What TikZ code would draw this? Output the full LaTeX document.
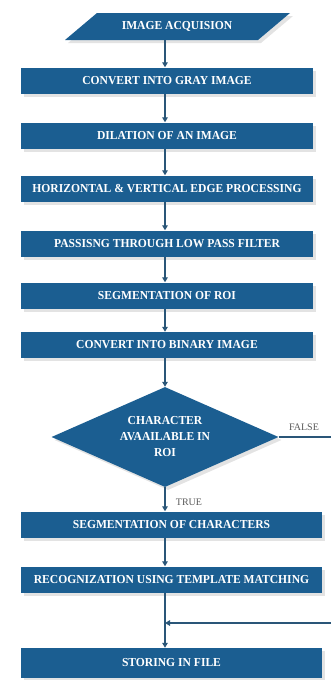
\documentclass[tikz,border=0pt]{standalone}
\usepackage{fontspec}
\setmainfont{Liberation Serif}
\newfontfamily\bxfont{Liberation Serif}[FakeStretch=0.95]
\usetikzlibrary{shapes.geometric,arrows.meta,shadows}
\definecolor{boxblue}{HTML}{1B5E91}
\definecolor{linec}{HTML}{2A5678}
\begin{document}
\begin{tikzpicture}[x=1pt,y=-1pt,
  shad/.style={drop shadow={shadow xshift=3pt,shadow yshift=-3pt,fill=black!22}},
  bxtext/.style={text=white, font=\bxfont\bfseries\fontsize{12.2}{16}\selectfont},
  box/.style={fill=boxblue, bxtext, inner sep=0pt, minimum height=26pt, shad},
  upper/.style={box, minimum width=292pt},
  lower/.style={box, minimum width=301pt},
  conn/.style={draw=linec, line width=1.6pt},
  arr/.style={conn, -{Triangle[length=5pt,width=5.5pt]}},
  lbl/.style={font=\fontsize{10}{12}\selectfont, text=black!65}]
\useasboundingbox (0,0) rectangle (331,680);
\clip (0,0) rectangle (331,680);
\coordinate (ax) at (165,0);

% input parallelogram
\fill[boxblue, shad] (65,40) -- (258,40) -- (290,13) -- (97,13) -- cycle;
\node[bxtext, inner sep=0pt, minimum height=27pt] (acq) at (177,26.5) {IMAGE ACQUISION};

\node[upper] (b1) at (167,80.5) {CONVERT INTO GRAY IMAGE};
\node[upper] (b2) at (167,135.5) {DILATION OF AN IMAGE};
\node[upper] (b3) at (167,188.5) {HORIZONTAL \& VERTICAL EDGE PROCESSING};
\node[upper] (b4) at (167,243.5) {PASSISNG THROUGH LOW PASS FILTER};
\node[upper] (b5) at (167,295.5) {SEGMENTATION OF ROI};
\node[upper] (b6) at (167,345) {CONVERT INTO BINARY IMAGE};

\node[diamond, fill=boxblue, bxtext, inner sep=0pt, aspect=2.27,
      minimum width=227pt, minimum height=100pt, align=center, shad] (dia) at (165,437)
      {CHARACTER\\AVAAILABLE IN\\ROI};

\node[lower] (b7) at (171.5,524.5) {SEGMENTATION OF CHARACTERS};
\node[lower] (b8) at (171.5,579.5) {RECOGNIZATION USING TEMPLATE MATCHING};
\node[lower, minimum height=30pt] (b9) at (171.5,663) {STORING IN FILE};

\draw[arr] (acq.south -| ax) -- (b1.north -| ax);
\draw[arr] (b1.south -| ax) -- (b2.north -| ax);
\draw[arr] (b2.south -| ax) -- (b3.north -| ax);
\draw[arr] (b3.south -| ax) -- (b4.north -| ax);
\draw[arr] (b4.south -| ax) -- (b5.north -| ax);
\draw[arr] (b5.south -| ax) -- (b6.north -| ax);
\draw[arr] (b6.south -| ax) -- (dia.north);
\draw[arr] (dia.south) -- (b7.north -| ax);
\draw[arr] (b7.south -| ax) -- (b8.north -| ax);
\draw[arr] (b8.south -| ax) -- (b9.north -| ax);

\node[lbl] (tl) at (189,502) {TRUE};
\node[lbl] (fl) at (304,427) {FALSE};

\coordinate (fr) at (334,437);
\coordinate (fret) at (334,623);
\draw[conn] (dia.east) -- (fr) -- (fret);
\draw[arr] (fret) -- (fret -| ax);
\end{tikzpicture}
\end{document}
